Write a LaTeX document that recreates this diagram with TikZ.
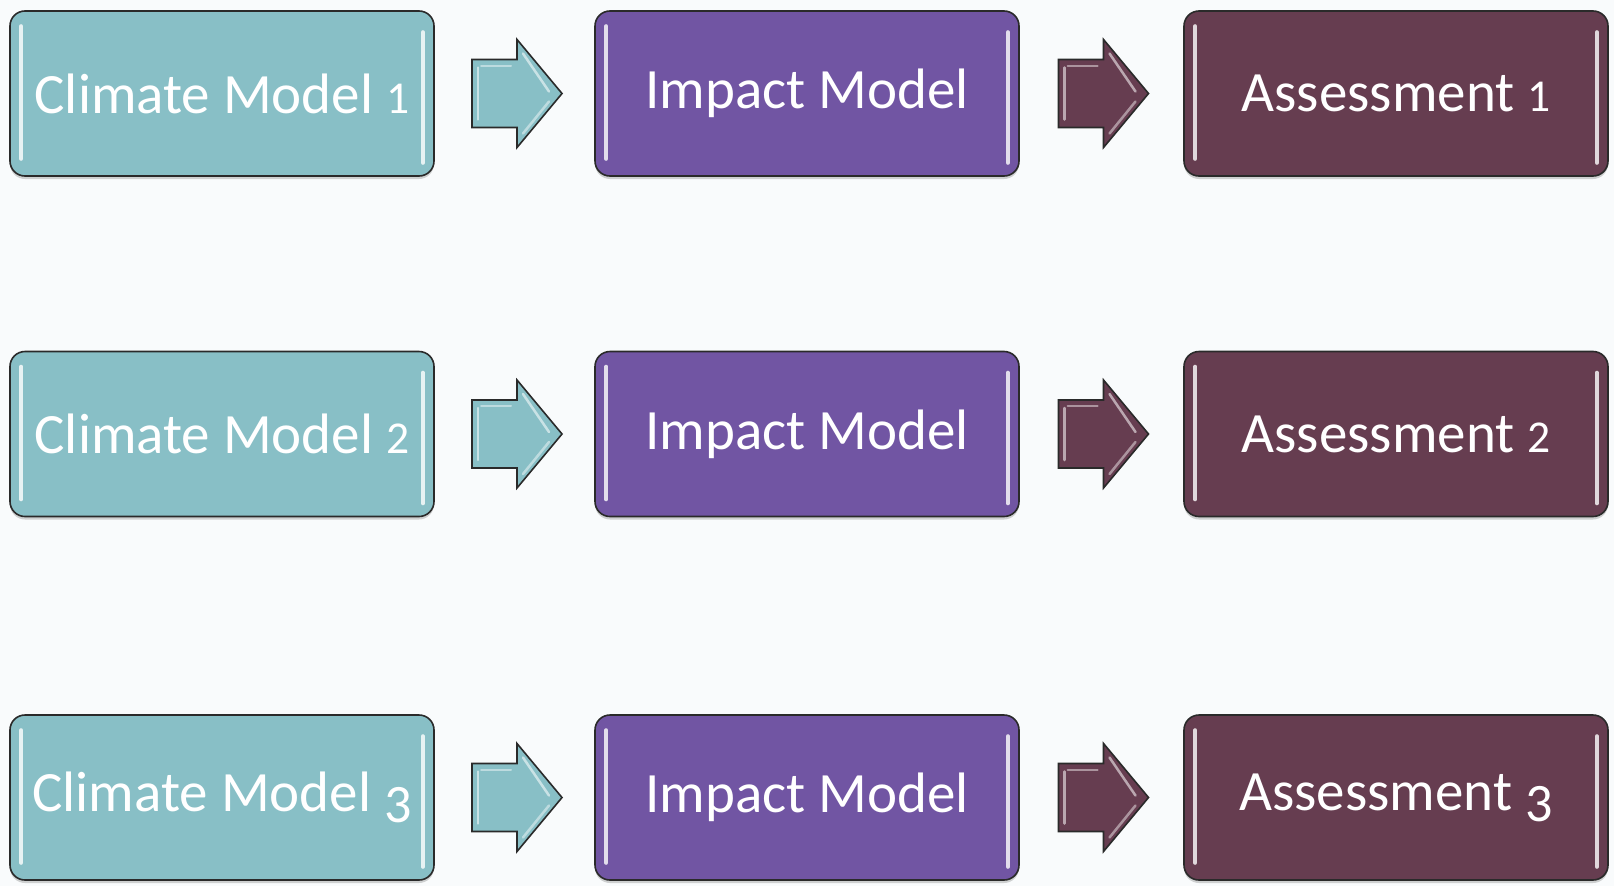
\documentclass[tikz,border=0pt]{standalone}
\usepackage{fontspec}
\usepackage{graphicx}
\setmainfont{Carlito}
\usetikzlibrary{calc,shadows}
\definecolor{bgc}{HTML}{F9FBFC}
\definecolor{cyanf}{HTML}{88BFC6}
\definecolor{purpf}{HTML}{7155A3}
\definecolor{brownf}{HTML}{663D50}
\definecolor{edgec}{HTML}{2A2A2A}
\newcommand{\osa}[1]{\scalebox{0.8}{#1}}
\newcommand{\osb}[1]{\raisebox{-0.19em}{\scalebox{0.95}{#1}}}
\tikzset{
  box/.style={draw=edgec, line width=1.6pt, rounded corners=15pt,
    minimum width=424pt, minimum height=165pt, inner sep=0pt,
    text=white, font=\fontsize{57}{62}\selectfont,
    drop shadow={opacity=0.35, shadow xshift=0pt, shadow yshift=-3pt}},
  cbox/.style={box, fill=cyanf},
  pbox/.style={box, fill=purpf},
  bbox/.style={box, fill=brownf},
  gloss/.style={white, line width=4pt, line cap=round, opacity=0.8},
  blockarr/.pic={
    \draw[fill=#1, draw=edgec, line width=1.6pt, line join=miter]
      (-45,-34) -- (0,-34) -- (0,-54) -- (45,0) -- (0,54) -- (0,34) -- (-45,34) -- cycle;
    \draw[white, opacity=0.55, line width=2.5pt, line cap=round]
      (-39,-26) -- (-39,26);
    \draw[white, opacity=0.45, line width=2pt, line cap=round]
      (-36,-28) -- (-6,-28);
    \draw[white, opacity=0.55, line width=2.5pt, line cap=round]
      (6,-40) -- (32,-2);
    \draw[white, opacity=0.45, line width=2.5pt, line cap=round]
      (6,40) -- (32,8);
  }
}
\newcommand{\glossbox}[1]{%
  \draw[gloss] ($(#1.north west)+(12,16)$) -- ($(#1.south west)+(12,-18)$);
  \draw[gloss] ($(#1.north east)+(-12,22)$) -- ($(#1.south east)+(-12,-14)$);
}
\begin{document}
\begin{tikzpicture}[x=1pt,y=-1pt]
\fill[bgc] (0,0) rectangle (1614,886);
\useasboundingbox (0,0) rectangle (1614,886);

\node[cbox] (c1) at (222,93.5) {Climate Model \osa{1}};
\node[pbox] (i1) at (807,93.5) {Impact Model};
\node[bbox] (s1) at (1396,93.5) {Assessment \osa{1}};

\node[cbox] (c2) at (222,434) {Climate Model \osa{2}};
\node[pbox] (i2) at (807,434) {Impact Model};
\node[bbox] (s2) at (1396,434) {Assessment \osa{2}};

\node[cbox] (c3) at (222,797.5) {Climate Model \osb{3}};
\node[pbox] (i3) at (807,797.5) {Impact Model};
\node[bbox] (s3) at (1396,797.5) {Assessment \osb{3}};

\foreach \n in {c1,i1,s1,c2,i2,s2,c3,i3,s3}{\glossbox{\n}}

\foreach \r in {1,2,3}{
  \coordinate (ca\r) at ($(c\r.east)!0.5!(i\r.west)+(2.5,0)$);
  \coordinate (ba\r) at ($(i\r.east)!0.5!(s\r.west)+(2,0)$);
  \pic at (ca\r) {blockarr=cyanf};
  \pic at (ba\r) {blockarr=brownf};
}
\end{tikzpicture}
\end{document}
